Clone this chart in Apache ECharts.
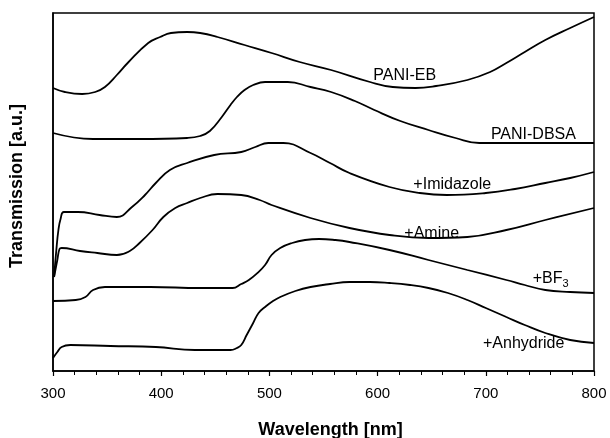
<!DOCTYPE html>
<html><head><meta charset="utf-8">
<script src="https://cdn.jsdelivr.net/npm/echarts@6/dist/echarts.min.js"></script>
<style>html,body{margin:0;padding:0;background:#fff}#c{width:610px;height:438px}</style>
</head><body><div id="c"></div>
<script>
// Wavelength [nm], transmission [a.u.] pairs
const paniEB = [[300,283],[311,279],[327,277],[339,279],[348,284],[359,296],[369,308],[388,328],[399,334],[409,338],[424,339],[436,338],[452,334],[477,326],[502,318],[528,309],[557,301],[593,289],[614,284],[635,283],[654,285],[683,291],[704,299],[719,308],[736,319],[755,331],[778,343],[800,354]];
const paniDBSA = [[300,238],[337,232],[380,232],[424,233],[436,235],[445,240],[456,254],[464,266],[470,274],[477,281],[485,286],[496,289],[517,289],[538,284],[557,279],[579,270],[597,261],[621,250],[647,241],[672,233],[694,228],[732,228],[800,228]];
const imidazole = [[301,94],[303,120],[305,141],[307,152],[310,159],[323,159],[343,156],[359,154],[373,164],[385,176],[395,188],[408,201],[424,208],[449,216],[474,219],[487,224],[499,228],[513,228],[538,218],[556,208],[574,198],[611,184],[639,178],[664,176],[700,178],[727,182],[755,188],[778,193],[800,199]];
const amine = [[301,94],[304,111],[306,122],[308,123],[325,120],[341,118],[359,116],[371,120],[380,128],[392,141],[402,154],[413,163],[424,168],[436,173],[452,177],[474,176],[491,171],[502,166],[538,153],[574,143],[611,136],[647,133],[683,134],[719,141],[755,151],[800,163]];
const bf3 = [[300,70],[321,71],[330,74],[337,81],[348,84],[390,84],[436,83],[466,83],[474,87],[481,91],[489,98],[496,106],[502,116],[510,123],[521,128],[533,131],[546,132],[561,131],[574,129],[611,121],[647,111],[683,101],[719,91],[736,86],[755,81],[778,79],[800,78]];
const anhydride = [[300,13],[304,19],[308,24],[316,26],[353,25],[395,24],[431,21],[464,21],[470,23],[474,26],[479,36],[485,48],[490,58],[496,64],[502,69],[510,74],[524,80],[538,84],[556,87],[574,89],[593,89],[611,88],[630,86],[647,83],[665,78],[683,71],[700,63],[719,54],[736,46],[755,38],[778,31],[800,28]];

const labelTexts = ['PANI-EB','PANI-DBSA','+Imidazole','+Amine','+BF{s|3}','+Anhydride'];
const labelX = [625,744,669,650,760,735];
const labelY = [295,236,186,137,92,27];
const xTicks = [300,400,500,600,700,800];

const seriesData = [paniEB, paniDBSA, imidazole, amine, bf3, anhydride];
const FONT = '"Liberation Sans", Arial, sans-serif';

const chart = echarts.init(document.getElementById('c'), null, {renderer:'canvas'});
const series = seriesData.map(d => ({
  type:'line', data:d, showSymbol:false, smooth:0.45,
  lineStyle:{color:'#000', width:1.8}, animation:false, z:2
}));
series.push({
  type:'scatter', symbolSize:0, animation:false, silent:true, z:3,
  itemStyle:{opacity:1, color:'#000'},
  data: labelTexts.map((t,i)=>({value:[labelX[i],labelY[i]], name:t})),
  label:{show:true, position:'inside', formatter:p=>p.name, color:'#000',
    textBorderWidth:0, textBorderColor:'transparent',
    fontFamily:FONT, fontSize:16,
    rich:{s:{fontSize:11, verticalAlign:'bottom', padding:[9,0,0,0], fontFamily:FONT, color:'#000', textBorderWidth:0}}}
});

chart.setOption({
  backgroundColor:'#fff',
  animation:false,
  grid:{left:53, right:16, top:13, bottom:67, outerBoundsMode:'none', containLabel:false,
    show:true, borderColor:'#000', borderWidth:1.5, backgroundColor:'transparent'},
  xAxis:{type:'value', min:xTicks[0], max:xTicks[xTicks.length-1], interval:100,
    name:'Wavelength [nm]', nameLocation:'middle', nameGap:50,
    nameTextStyle:{fontFamily:FONT, fontSize:18, fontWeight:'bold', color:'#000', padding:[0,0,0,14]},
    axisLine:{lineStyle:{color:'#000', width:1.5}},
    axisTick:{show:true, length:5, lineStyle:{color:'#000', width:1.2}},
    minorTick:{show:true, splitNumber:5, length:4, lineStyle:{color:'#000', width:1}},
    axisLabel:{fontFamily:FONT, fontSize:15, color:'#000', margin:15},
    splitLine:{show:false}},
  yAxis:{type:'value', min:0, max:358,
    name:'Transmission [a.u.]', nameLocation:'middle', nameGap:27,
    nameTextStyle:{fontFamily:FONT, fontSize:18, fontWeight:'bold', color:'#000', padding:[0,0,0,12]},
    axisLine:{show:true, lineStyle:{color:'#000', width:1.5}},
    axisTick:{show:false}, axisLabel:{show:false}, splitLine:{show:false}},
  series:series
});
</script></body></html>
